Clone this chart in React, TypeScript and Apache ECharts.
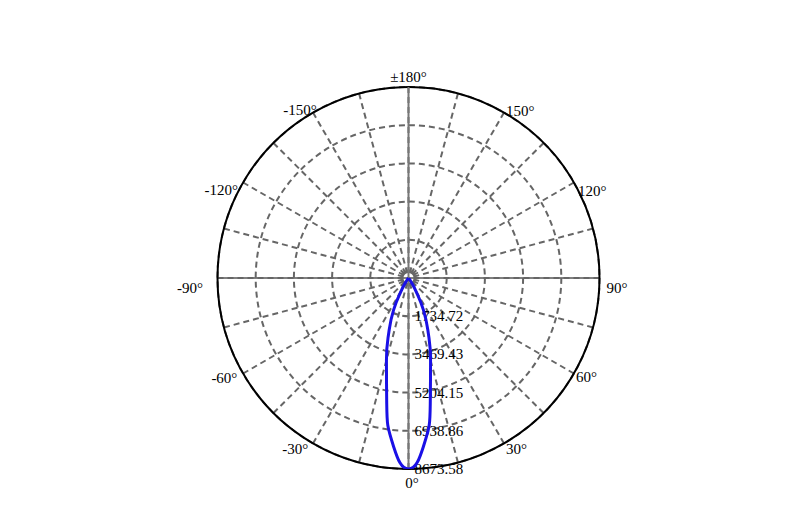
import { useEffect, useRef } from "react";
import * as echarts from "echarts";

// 角度 (°) 与光强 (cd)
const angleDeg = [
  -180, -175, -170, -165, -160, -155, -150, -145, -140, -135, -130, -125,
  -120, -115, -110, -105, -100, -95, -90, -85, -80, -75, -70, -65,
  -60, -55, -50, -45, -40, -35, -30, -25, -20, -15, -10, -5,
  0, 5, 10, 15, 20, 25, 30, 35, 40, 45, 50, 55,
  60, 65, 70, 75, 80, 85, 90, 95, 100, 105, 110, 115,
  120, 125, 130, 135, 140, 145, 150, 155, 160, 165, 170, 175, 180,
];
const intensity = [
  0, 0, 0, 0, 0, 0, 0, 0, 0, 0, 0, 0,
  0, 0, 0, 0, 0, 0, 0, 0, 0, 0, 0, 0,
  0, 0, 0, 0, 20, 150, 620, 1600, 2600, 3870, 5700, 7700,
  8673.58, 7700, 5700, 3870, 2600, 1600, 620, 150, 20, 0, 0, 0,
  0, 0, 0, 0, 0, 0, 0, 0, 0, 0, 0, 0,
  0, 0, 0, 0, 0, 0, 0, 0, 0, 0, 0, 0, 0,
];
const radiusMax = 8673.58;
const radiusStep = 1734.716;

const FONT = "'Liberation Serif', 'Times New Roman', serif";
const CENTER = [408.5, 278];
const R = 191;

// 角度标签的微调偏移 [dx, dy]
const labelShift = {
  0: [3.5, 6.5],
  30: [2, -2],
  60: [2, -4],
  90: [7, 10],
  120: [4, 16],
  150: [2, 5.5],
  180: [0, -2.5],
  210: [3.7, 5],
  240: [-5, 15],
  270: [-14.5, 10],
  300: [-5.7, -3],
  330: [-4.7, -2],
};

const rich: any = {};
Object.keys(labelShift).forEach((k) => {
  const [dx, dy] = labelShift[k];
  rich["a" + k] = {
    color: "#000",
    fontFamily: FONT,
    fontSize: 15,
    padding: [dy, -dx, -dy, dx],
  };
});

const App = () => {
  const chartRef = useRef(null);

  useEffect(() => {
    const chart = echarts.init(chartRef.current, null, { renderer: "svg" });

    const option: any = {
      animation: false,
      polar: [
        { center: CENTER, radius: R },
        { center: CENTER, radius: R },
        { center: CENTER, radius: R },
      ],
      angleAxis: [
        {
          polarIndex: 0,
          type: "value",
          min: 0,
          max: 360,
          interval: 15,
          startAngle: 270,
          clockwise: false,
          z: 1,
          axisLine: { lineStyle: { color: "#000", width: 2 } },
          axisTick: { show: false },
          axisLabel: {
            color: "#000",
            fontFamily: FONT,
            fontSize: 15,
            margin: 0,
            rich,
            formatter: (v) => {
              if (v % 30 !== 0 || v === 360) return "";
              let txt = (v > 180 ? v - 360 : v) + "°";
              if (v === 180) txt = "±180°";
              return "{a" + v + "|" + txt + "}";
            },
          },
          splitLine: {
            lineStyle: { color: "#666", width: 2, type: [6, 4] },
          },
        },
        {
          polarIndex: 1,
          type: "value",
          min: 0,
          max: 360,
          interval: 180,
          startAngle: 270,
          z: 2,
          axisLine: { show: false },
          axisTick: { show: false },
          axisLabel: { show: false },
          splitLine: { lineStyle: { color: "#777", width: 2, type: "solid" } },
        },
        {
          polarIndex: 2,
          type: "value",
          min: 0,
          max: 360,
          interval: 180,
          startAngle: 0,
          z: 0,
          axisLine: { show: false },
          axisTick: { show: false },
          axisLabel: { show: false },
          splitLine: { lineStyle: { color: "#000", width: 1, type: "solid" } },
        },
      ],
      radiusAxis: [
        {
          polarIndex: 0,
          type: "value",
          min: 0,
          max: radiusMax,
          interval: radiusStep,
          z: 1,
          axisLine: { show: false },
          axisTick: { show: false },
          axisLabel: {
            color: "#000",
            fontFamily: FONT,
            fontSize: 15,
            margin: 6,
            formatter: (v) => (v > 0 ? v.toFixed(2) : ""),
          },
          splitLine: {
            lineStyle: { color: "#666", width: 2, type: [6, 4] },
          },
        },
        { polarIndex: 1, type: "value", min: 0, max: 1, show: false },
        { polarIndex: 2, type: "value", min: 0, max: 1, show: false },
      ],
      series: [
        {
          type: "line",
          coordinateSystem: "polar",
          polarIndex: 0,
          z: 5,
          showSymbol: false,
          smooth: true,
          lineStyle: { color: "#1a10e6", width: 3 },
          data: angleDeg.map((a, i) => [intensity[i], a < 0 ? a + 360 : a]),
        },
      ],
    };

    chart.setOption(option);

    return () => {
      chart.dispose();
    };
  }, []);

  return (
    <div
      ref={chartRef}
      style={{ position: "absolute", left: 0, top: 0, width: "787px", height: "511px" }}
    />
  );
};

export default App;
